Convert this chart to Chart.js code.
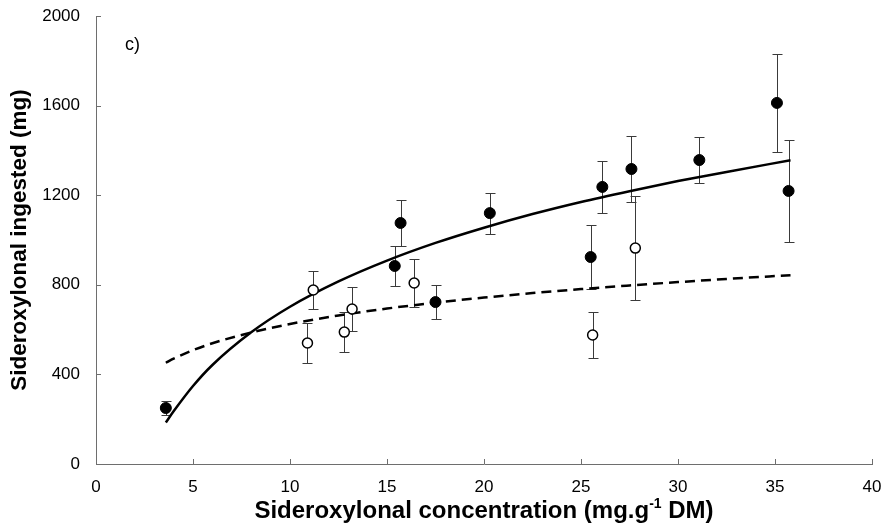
<!DOCTYPE html>
<html>
<head>
<meta charset="utf-8">
<script src="https://cdn.jsdelivr.net/npm/chart.js@4.4.0/dist/chart.umd.min.js"></script>
<style>
  html, body { margin: 0; padding: 0; background: #fff; }
</style>
</head>
<body>
<canvas id="myChart" width="882" height="529"></canvas>
<script>
// filled circles
var filledX   = [3.6, 15.4, 15.7, 17.5, 20.3, 25.5, 26.1, 27.6, 31.1, 35.1, 35.7];
var filledY   = [250, 884, 1076, 723, 1120, 924, 1237, 1317, 1357, 1612, 1219];
var filledErr = [30, 90, 102, 74, 92, 143, 117, 148, 103, 218, 228];

// open circles
var openX   = [10.9, 11.2, 12.8, 13.2, 16.4, 25.6, 27.8];
var openY   = [540, 777, 589, 692, 808, 576, 964];
var openErr = [90, 83, 88, 98, 107, 103, 233];

// fitted curves
var fitX    = [3.6, 4, 5, 6, 8, 10, 12.5, 15, 17.5, 20, 22.5, 25, 27.5, 30, 32.5, 35.8];
var solidY  = [185, 235, 348, 442, 588, 702, 815, 908, 987, 1055, 1116, 1170, 1218, 1263, 1304, 1356];
var dashedY = [452, 470, 508, 539, 587, 625, 663, 694, 720, 743, 763, 781, 797, 812, 826, 843];

var xTicks = [0, 5, 10, 15, 20, 25, 30, 35, 40];
var yTicks = [0, 400, 800, 1200, 1600, 2000];

var FONT = '"Liberation Sans", Arial, sans-serif';

function pts(xs, ys) {
  return xs.map(function(x, i) { return { x: x, y: ys[i] }; });
}

var extras = {
  id: 'extras',
  beforeDatasetsDraw: function(chart) {
    var ctx = chart.ctx, sx = chart.scales.x, sy = chart.scales.y;
    ctx.save();
    ctx.strokeStyle = '#3a3a3a';
    ctx.lineWidth = 1;
    function bars(xv, yv, ev) {
      for (var i = 0; i < xv.length; i++) {
        var px = Math.round(sx.getPixelForValue(xv[i])) + 0.5;
        var top = Math.round(sy.getPixelForValue(yv[i] + ev[i])) + 0.5;
        var bot = Math.round(sy.getPixelForValue(yv[i] - ev[i])) + 0.5;
        ctx.beginPath();
        ctx.moveTo(px, top); ctx.lineTo(px, bot);
        ctx.moveTo(px - 5, top); ctx.lineTo(px + 5, top);
        ctx.moveTo(px - 5, bot); ctx.lineTo(px + 5, bot);
        ctx.stroke();
      }
    }
    bars(filledX, filledY, filledErr);
    bars(openX, openY, openErr);
    ctx.restore();
  },
  afterDraw: function(chart) {
    var ctx = chart.ctx, sx = chart.scales.x, sy = chart.scales.y;
    var area = chart.chartArea;
    ctx.save();
    // tick marks pointing into the plot
    ctx.strokeStyle = '#6e6e6e';
    ctx.lineWidth = 1;
    ctx.beginPath();
    yTicks.forEach(function(v) {
      var py = Math.round(sy.getPixelForValue(v)) + 0.5;
      ctx.moveTo(area.left, py); ctx.lineTo(area.left + 5, py);
    });
    xTicks.forEach(function(v) {
      var px = Math.round(sx.getPixelForValue(v)) + 0.5;
      ctx.moveTo(px, area.bottom); ctx.lineTo(px, area.bottom - 5);
    });
    ctx.stroke();

    // panel label
    ctx.fillStyle = '#000';
    ctx.font = '18px ' + FONT;
    ctx.textBaseline = 'middle';
    ctx.textAlign = 'left';
    ctx.fillText('c)', 125, 45);

    // x axis title with superscript
    var a = 'Sideroxylonal concentration (mg.g', sup = '-1', b = ' DM)';
    var big = 'bold 24px ' + FONT, small = 'bold 14px ' + FONT;
    ctx.font = big; var wa = ctx.measureText(a).width, wb = ctx.measureText(b).width;
    ctx.font = small; var ws = ctx.measureText(sup).width;
    var x0 = (area.left + area.right) / 2 - (wa + ws + wb) / 2;
    var yb = 518;
    ctx.textBaseline = 'alphabetic';
    ctx.font = big; ctx.fillText(a, x0, yb);
    ctx.font = small; ctx.fillText(sup, x0 + wa, yb - 10);
    ctx.font = big; ctx.fillText(b, x0 + wa + ws, yb);
    ctx.restore();
  }
};

var ctx = document.getElementById('myChart').getContext('2d');
var myChart = new Chart(ctx, {
  type: 'scatter',
  data: {
    datasets: [
      {
        label: 'filled',
        data: pts(filledX, filledY),
        pointRadius: 5.5,
        pointBackgroundColor: '#000',
        pointBorderColor: '#000',
        pointBorderWidth: 1
      },
      {
        label: 'open',
        data: pts(openX, openY),
        pointRadius: 5,
        pointBackgroundColor: '#fff',
        pointBorderColor: '#000',
        pointBorderWidth: 1.5
      },
      {
        label: 'fit filled',
        data: pts(fitX, solidY),
        showLine: true,
        pointRadius: 0,
        borderColor: '#000',
        borderWidth: 2.5,
        cubicInterpolationMode: 'monotone'
      },
      {
        label: 'fit open',
        data: pts(fitX, dashedY),
        showLine: true,
        pointRadius: 0,
        borderColor: '#000',
        borderWidth: 2.5,
        borderDash: [10, 6],
        cubicInterpolationMode: 'monotone'
      }
    ]
  },
  options: {
    responsive: false,
    animation: false,
    layout: { padding: { top: 16, right: 10, left: 0, bottom: 0 } },
    plugins: {
      legend: { display: false },
      tooltip: { enabled: false }
    },
    scales: {
      x: {
        type: 'linear',
        min: 0, max: 40,
        afterBuildTicks: function(scale) {
          scale.ticks = xTicks.map(function(v) { return { value: v }; });
        },
        afterFit: function(scale) {
          scale.height = 65;
          scale.paddingLeft = 0;
          scale.paddingRight = 0;
        },
        grid: { display: false },
        border: { display: true, color: '#6e6e6e', width: 1 },
        ticks: {
          color: '#000', padding: 5, maxRotation: 0,
          font: { family: FONT, size: 17 },
          callback: function(v) { return String(v); }
        }
      },
      y: {
        min: 0, max: 2000,
        afterBuildTicks: function(scale) {
          scale.ticks = yTicks.map(function(v) { return { value: v }; });
        },
        afterFit: function(scale) {
          scale.width = 96;
          scale.paddingTop = 0;
          scale.paddingBottom = 0;
        },
        grid: { display: false },
        border: { display: true, color: '#6e6e6e', width: 1 },
        title: {
          display: true,
          text: 'Sideroxylonal ingested (mg)',
          color: '#000',
          font: { family: FONT, size: 22.5, weight: 'bold' },
          padding: { top: 6, bottom: 0 }
        },
        ticks: {
          color: '#000', padding: 8,
          font: { family: FONT, size: 17 },
          callback: function(v) { return String(v); }
        }
      }
    }
  },
  plugins: [extras]
});
</script>
</body>
</html>
